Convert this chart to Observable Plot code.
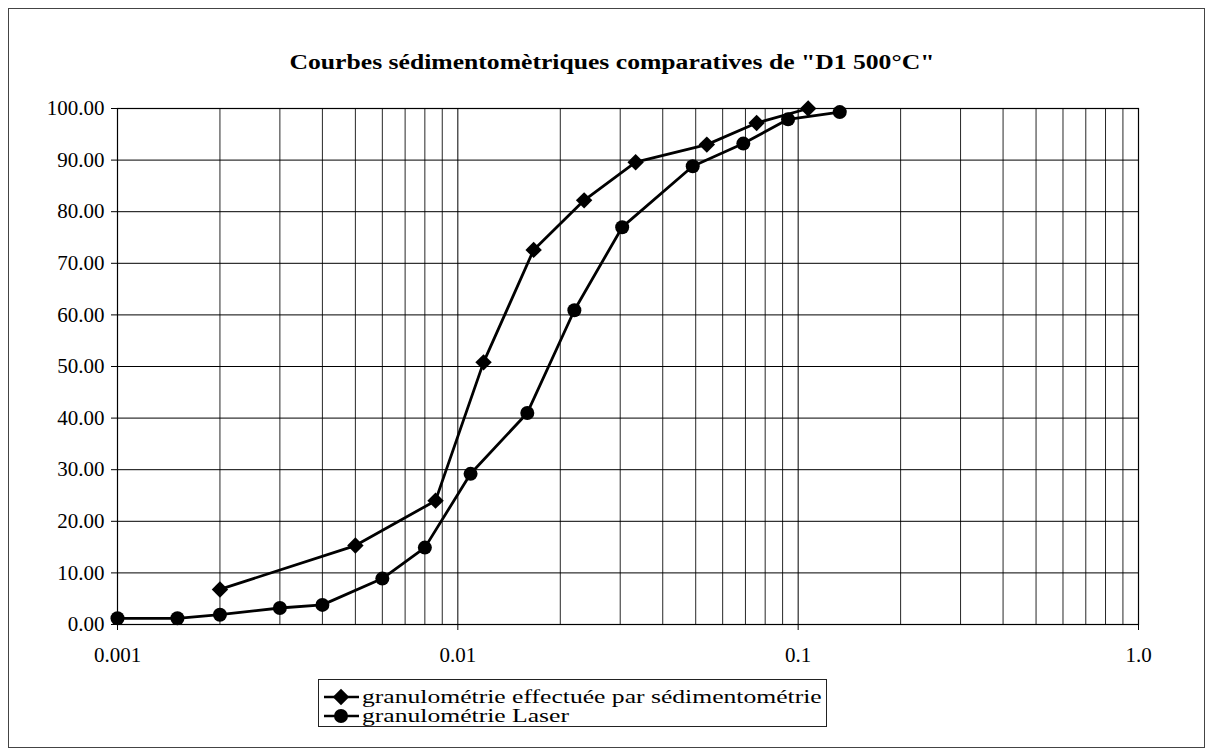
<!DOCTYPE html>
<html>
<head>
<meta charset="utf-8">
<script src="https://cdn.jsdelivr.net/npm/d3@7"></script>
<script src="https://cdn.jsdelivr.net/npm/@observablehq/plot@0.6"></script>
<style>
  html, body { margin: 0; padding: 0; background: #fff; }
  #wrap { position: relative; width: 1213px; height: 755px; overflow: hidden; }
  #wrap svg { position: absolute; left: 0; top: 0; }
  #wrap svg text { font-family: "Liberation Serif", "Times New Roman", serif !important; }
</style>
</head>
<body>
<div id="wrap"></div>
<script>
// ---- data ----
const titleText = 'Courbes sédimentomètriques comparatives de "D1 500°C"';
const seriesNames = ["granulométrie effectuée par sédimentométrie", "granulométrie Laser"];

const sedX = [0.002, 0.005, 0.0086, 0.0119, 0.0167, 0.0235, 0.0333, 0.0539, 0.0755, 0.107];
const sedY = [6.8, 15.3, 24.0, 50.8, 72.6, 82.2, 89.6, 93.0, 97.2, 100.0];

const laserX = [0.001, 0.0015, 0.002, 0.003, 0.004, 0.006, 0.008, 0.0109, 0.016, 0.022, 0.0304, 0.049, 0.069, 0.0934, 0.1325];
const laserY = [1.2, 1.2, 1.9, 3.2, 3.8, 8.9, 14.9, 29.2, 41.0, 60.9, 77.0, 88.8, 93.2, 97.9, 99.3];

const xMajorTicks = [0.001, 0.01, 0.1, 1];
const xTickLabels = ["0.001", "0.01", "0.1", "1.0"];
const xMinorTicks = [0.002,0.003,0.004,0.005,0.006,0.007,0.008,0.009,
                     0.02,0.03,0.04,0.05,0.06,0.07,0.08,0.09,
                     0.2,0.3,0.4,0.5,0.6,0.7,0.8,0.9];
const yTicks = [0,10,20,30,40,50,60,70,80,90,100];

// tables built from the arrays
const sed = sedX.map((x, i) => ({x, y: sedY[i]}));
const laser = laserX.map((x, i) => ({x, y: laserY[i]}));

const W = 1213, H = 755;
const font = "Liberation Serif";
const rDiamond = 7.4, rCircle = 7;

const chart = Plot.plot({
  width: W,
  height: H,
  marginLeft: 117,
  marginRight: 75,
  marginTop: 108,
  marginBottom: 131,
  style: {fontFamily: font, fontSize: "21px", color: "#000", background: "transparent"},
  x: {type: "log", domain: [0.001, 1]},
  y: {domain: [0, 100]},
  marks: [
    Plot.ruleX(xMinorTicks, {stroke: "#000", strokeWidth: 1, strokeOpacity: 0.85}),
    Plot.ruleX(xMajorTicks, {stroke: "#000", strokeWidth: 1}),
    Plot.ruleY(yTicks, {stroke: "#000", strokeWidth: 1}),
    Plot.frame({stroke: "#000", strokeWidth: 1.2}),
    Plot.axisX({ticks: xMajorTicks, tickFormat: d => xTickLabels[xMajorTicks.indexOf(d)],
                tickSize: 6, tickPadding: 17, label: null, fontSize: 21}),
    Plot.axisY({ticks: yTicks, tickFormat: d => d.toFixed(2), tickSize: 6, tickPadding: 7,
                label: null, fontSize: 21}),
    Plot.line(sed, {x: "x", y: "y", stroke: "#000", strokeWidth: 2.8}),
    Plot.line(laser, {x: "x", y: "y", stroke: "#000", strokeWidth: 2.8}),
    Plot.dot(sed, {x: "x", y: "y", symbol: "diamond2", r: rDiamond, fill: "#000", stroke: "none"}),
    Plot.dot(laser, {x: "x", y: "y", symbol: "circle", r: rCircle, fill: "#000", stroke: "none"})
  ]
});
document.getElementById("wrap").appendChild(chart);

// ---- overlay: outer border, title, legend ----
const ov = d3.select("#wrap").append("svg")
  .attr("width", W).attr("height", H)
  .attr("font-family", font);

ov.append("rect")
  .attr("x", 8.5).attr("y", 8.5).attr("width", 1196).attr("height", 739)
  .attr("fill", "none").attr("stroke", "#444").attr("stroke-width", 1);

// title: scaled horizontally to the reference width (~645 px)
const title = ov.append("text")
  .attr("x", 0).attr("y", 0)
  .attr("font-weight", "bold")
  .attr("font-size", 21)
  .text(titleText);
{
  const L = title.node().getComputedTextLength();
  const s = 645 / L;
  title.attr("transform", `translate(${612 - 645 / 2},69) scale(${s},1)`);
}

// legend
const lg = ov.append("g");
lg.append("rect")
  .attr("x", 318.5).attr("y", 679.5).attr("width", 508).attr("height", 47)
  .attr("fill", "#fff").attr("stroke", "#222").attr("stroke-width", 1);
const rowsY = [697, 716];
const diamond = d3.symbol(d3.symbolDiamond2, rDiamond * rDiamond * Math.PI)();
const circle = d3.symbol(d3.symbolCircle, rCircle * rCircle * Math.PI)();
const texts = [];
seriesNames.forEach((name, i) => {
  const y = rowsY[i];
  lg.append("line").attr("x1", 324).attr("x2", 359).attr("y1", y).attr("y2", y)
    .attr("stroke", "#000").attr("stroke-width", 2.6);
  lg.append("path").attr("d", i === 0 ? diamond : circle)
    .attr("transform", `translate(341,${y})`).attr("fill", "#000");
  texts.push(lg.append("text").attr("x", 0).attr("y", 0)
    .attr("font-size", 19)
    .text(name));
});
{
  const L = texts[0].node().getComputedTextLength();
  const s = 460 / L;
  texts.forEach((t, i) => t.attr("transform", `translate(362,${rowsY[i] + 6}) scale(${s},1)`));
}
</script>
</body>
</html>
